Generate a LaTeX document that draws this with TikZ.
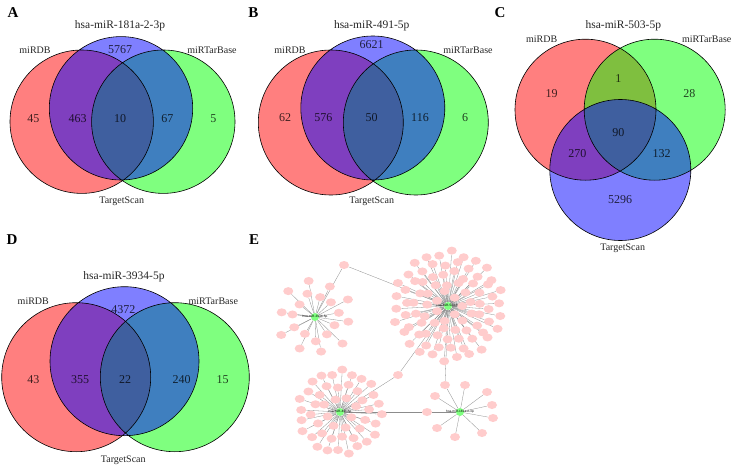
\documentclass[tikz,border=0pt]{standalone}
\usepackage{fontspec}
\setmainfont{Liberation Serif}
\newfontfamily\netfont{Liberation Sans}
\usetikzlibrary{shapes.geometric, positioning, backgrounds}
\tikzset{
    dbset/.style={fill=red, fill opacity=0.5},
    tarset/.style={fill=green, fill opacity=0.5},
    scanset/.style={fill=blue, fill opacity=0.5},
    rim/.style={draw=black, line width=0.6pt},
    count/.style={font=\fontsize{12}{12}\selectfont, text=black, text opacity=0.75, inner sep=0pt},
    dbname/.style={font=\fontsize{10}{10}\selectfont, text=black!85, inner sep=0pt},
    mirname/.style={font=\fontsize{11.5}{12}\selectfont, text=black!85, inner sep=0pt},
    panel/.style={font=\fontsize{15}{15}\selectfont\bfseries, inner sep=0pt},
    gene/.style={ellipse, fill=red!20, minimum width=10pt, minimum height=8pt, inner sep=0pt},
    mirna/.style={circle, fill=green!50, minimum size=8pt, inner sep=0pt,
        label={[font=\netfont\fontsize{3.2}{3.2}\selectfont, inner sep=0pt]center:#1}},
    link/.style={draw=black!45, line width=0.3pt}
}

\begin{document}
\begin{tikzpicture}[x=1pt, y=-1pt]

    \begin{scope}[on background layer]
        \fill[white] (0,0) rectangle (733,468);
    \end{scope}
    \useasboundingbox (0,0) rectangle (733,468);

    % A
    \fill[dbset] (81.7,121.7) circle[radius=71.7pt];
    \fill[tarset] (163.3,121.7) circle[radius=71.7pt];
    \fill[scanset] (121,108.3) circle[radius=71.7pt];
    \draw[rim] (81.7,121.7) circle[radius=71.7pt] (163.3,121.7) circle[radius=71.7pt] (121,108.3) circle[radius=71.7pt];
    \node[panel] (A) at (13,13) {A};
    \node[mirname] (A-mir) at (120,26) {hsa-miR-181a-2-3p};
    \node[dbname] (A-db) at (35,50) {miRDB};
    \node[dbname] (A-tar) at (212,50) {miRTarBase};
    \node[dbname] (A-scan) at (121.7,201.7) {TargetScan};
    \node[count] (A-1) at (33.3,118.3) {45};
    \node[count] (A-2) at (77.7,118.3) {463};
    \node[count] (A-3) at (120,118.3) {10};
    \node[count] (A-4) at (167.3,118.3) {67};
    \node[count] (A-5) at (213.3,118.3) {5};
    \node[count] (A-6) at (120,50) {5767};

    % B
    \fill[dbset] (330.8,122.5) circle[radius=72.5pt];
    \fill[tarset] (415.8,122.5) circle[radius=72.5pt];
    \fill[scanset] (372.8,108) circle[radius=72pt];
    \draw[rim] (330.8,122.5) circle[radius=72.5pt] (415.8,122.5) circle[radius=72.5pt] (372.8,108) circle[radius=72pt];
    \node[panel] (B) at (253.3,13) {B};
    \node[mirname] (B-mir) at (371.7,26) {hsa-miR-491-5p};
    \node[dbname] (B-db) at (290,50) {miRDB};
    \node[dbname] (B-tar) at (468,50) {miRTarBase};
    \node[dbname] (B-scan) at (371.7,201.7) {TargetScan};
    \node[count] (B-1) at (285,117.3) {62};
    \node[count] (B-2) at (323.3,117.3) {576};
    \node[count] (B-3) at (371.7,117.3) {50};
    \node[count] (B-4) at (420,117.3) {116};
    \node[count] (B-5) at (465,117.3) {6};
    \node[count] (B-6) at (371.7,45) {6621};

    % C
    \fill[dbset] (585.5,109.7) circle[radius=70.5pt];
    \fill[tarset] (654.7,109.7) circle[radius=70.5pt];
    \fill[scanset] (620.3,170) circle[radius=70.5pt];
    \draw[rim] (585.5,109.7) circle[radius=70.5pt] (654.7,109.7) circle[radius=70.5pt] (620.3,170) circle[radius=70.5pt];
    \node[panel] (C) at (500,13) {C};
    \node[mirname] (C-mir) at (623.3,26) {hsa-miR-503-5p};
    \node[dbname] (C-db) at (541.7,39.3) {miRDB};
    \node[dbname] (C-tar) at (706.7,39.3) {miRTarBase};
    \node[dbname] (C-scan) at (622.7,248.3) {TargetScan};
    \node[count] (C-1) at (551.7,93.3) {19};
    \node[count] (C-2) at (618.3,78.3) {1};
    \node[count] (C-3) at (689.3,93.3) {28};
    \node[count] (C-4) at (618.3,132.7) {90};
    \node[count] (C-5) at (577.3,153.3) {270};
    \node[count] (C-6) at (661.7,153.3) {132};
    \node[count] (C-7) at (620,200) {5296};

    % D
    \fill[dbset] (76.2,377.2) circle[radius=74.5pt];
    \fill[tarset] (174.8,377.2) circle[radius=74.5pt];
    \fill[scanset] (124.5,361.2) circle[radius=74.5pt];
    \draw[rim] (76.2,377.2) circle[radius=74.5pt] (174.8,377.2) circle[radius=74.5pt] (124.5,361.2) circle[radius=74.5pt];
    \node[panel] (D) at (12,240) {D};
    \node[mirname] (D-mir) at (124,276.7) {hsa-miR-3934-5p};
    \node[dbname] (D-db) at (33.3,301.7) {miRDB};
    \node[dbname] (D-tar) at (213.3,301.7) {miRTarBase};
    \node[dbname] (D-scan) at (123.3,460) {TargetScan};
    \node[count] (D-1) at (33.3,380) {43};
    \node[count] (D-2) at (80,380) {355};
    \node[count] (D-3) at (125,380) {22};
    \node[count] (D-4) at (181.7,380) {240};
    \node[count] (D-5) at (222.7,380) {15};
    \node[count] (D-6) at (123.3,310) {4372};

    % E
    \node[panel] (E) at (254,240) {E};
    \node[mirna=hsa-miR-3934-5p] (c1) at (315,317) {};
    \node[mirna=hsa-miR-503-5p] (c2) at (448,306) {};
    \node[mirna=hsa-miR-491-5p] (c3) at (340,412) {};
    \node[mirna=hsa-miR-181a-2-3p] (c4) at (460,412) {};

    % shared targets
    \node[gene] (s12) at (344,265) {};
    \node[gene] (s23) at (398,375) {};
    \node[gene] (s24) at (445,385) {};
    \node[gene] (s34) at (427,412) {};
    \begin{scope}[on background layer]
        \draw[link] (s12) -- (c1) (s12) -- (c2);
        \draw[link] (s23) -- (c3) (s23) -- (c2);
        \draw[link] (s24) -- (c4) (s24) -- (c2);
        \draw[link] (s34) -- (c3) (s34) -- (c4);
    \end{scope}

    % own targets, ring by ring
    \foreach \hub/\r/\n/\o [count=\k] in {c1/22/11/10, c1/36/10/28,
        c2/13/7/0, c2/23/13/10, c2/33/19/4, c2/43/22/12, c2/53/26/3,
        c3/15/8/20, c3/27/16/5, c3/40/24/12} {
        \foreach \i [evaluate=\i as \a using {\o+\i*360/\n},
                     evaluate=\i as \d using {\r+2.5*sin(\i*137+\k*50)}] in {1,...,\n} {
            \node[gene] (t\k-\i) at ([shift={(\a:\d pt)}]\hub) {};
            \begin{scope}[on background layer]
                \draw[link] (\hub) -- (t\k-\i);
            \end{scope}
        }
    }

    % hsa-miR-181a-2-3p targets
    \foreach \x/\y [count=\i] in {465/385, 435/396, 487/392, 492/405, 493/418, 437/428, 455/437, 482/433} {
        \node[gene] (u\i) at (\x,\y) {};
        \begin{scope}[on background layer]
            \draw[link] (c4) -- (u\i);
        \end{scope}
    }

\end{tikzpicture}
\end{document}
